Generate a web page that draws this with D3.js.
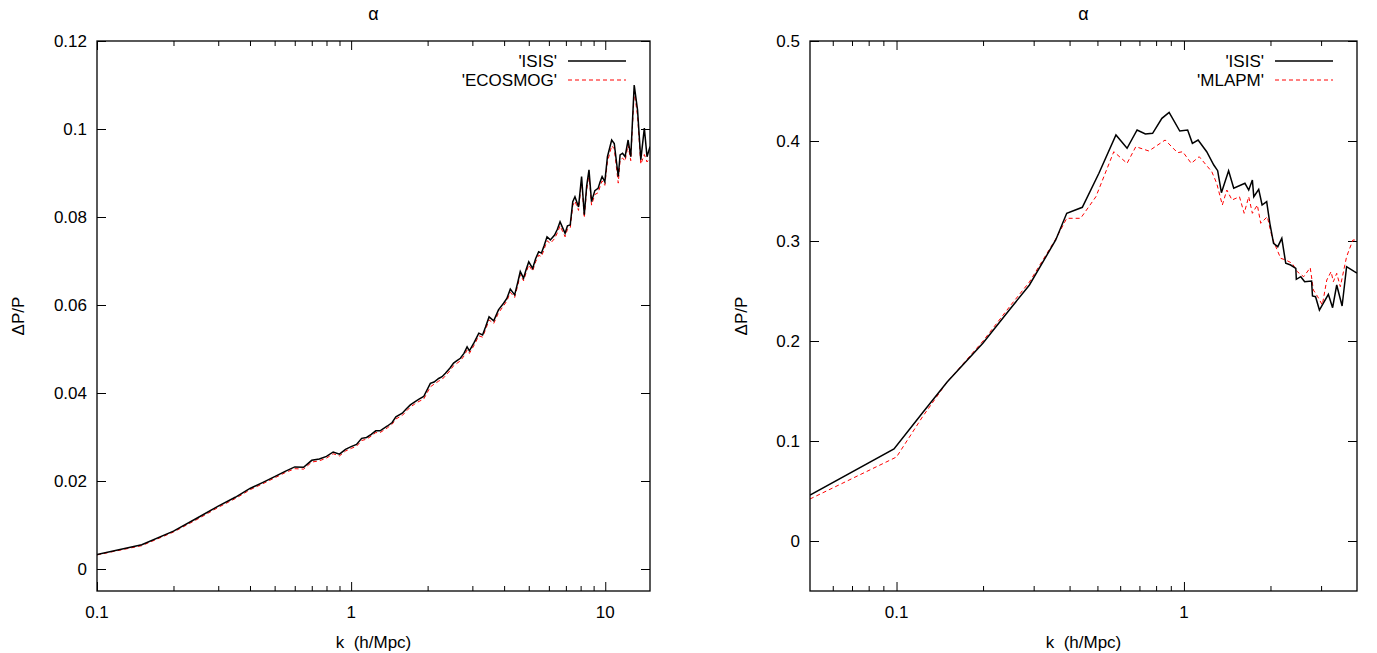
<!DOCTYPE html>
<html>
  <head>
    <meta charset="utf-8" />
    <title>Delta P / P</title>
    <script src="https://d3js.org/d3.v7.min.js"></script>
    <style>
      body { margin:0; background:#fff; }
      text { font-family: "Liberation Sans", Arial, Helvetica, sans-serif; fill:#000; white-space: pre; }
    </style>
  </head>
  <body>
    <svg id="chart"></svg>
    <script>
      // left panel: ISIS vs ECOSMOG
      var leftK = [0.10,0.15,0.20,0.25,0.30,0.35,0.40,0.45,0.50,0.55,0.60,0.65,0.70,0.75,0.80,0.85,0.90,0.95,
        1.00,1.05,1.10,1.15,1.20,1.25,1.30,1.39,1.45,1.50,1.59,1.65,1.71,1.78,1.85,1.93,2.05,2.12,2.21,2.28,2.35,
        2.45,2.53,2.60,2.69,2.78,2.86,2.92,3.05,3.18,3.29,3.38,3.49,3.64,3.80,3.98,4.10,4.23,4.40,4.52,4.63,4.77,
        4.88,5.00,5.18,5.32,5.47,5.61,5.75,5.90,6.08,6.32,6.48,6.64,6.95,7.10,7.28,7.45,7.60,7.85,8.07,8.27,8.45,
        8.63,8.83,9.10,9.37,9.55,9.72,9.96,10.2,10.6,10.85,11.25,11.44,11.7,11.97,12.3,12.6,13.0,13.4,13.8,14.25,14.6,15.0];
      var leftIsis = [0.0033,0.0055,0.0086,0.0117,0.0143,0.0163,0.0183,0.0197,0.0210,0.0222,0.0232,0.0231,0.0247,0.0250,
        0.0256,0.0266,0.0261,0.0272,0.0278,0.0283,0.0297,0.0299,0.0306,0.0314,0.0314,0.0325,0.0333,0.0346,0.0354,0.0364,
        0.0373,0.0380,0.0386,0.0392,0.0422,0.0425,0.0433,0.0437,0.0445,0.0457,0.0468,0.0473,0.0479,0.0490,0.0505,0.0496,
        0.0515,0.0536,0.0532,0.0550,0.0573,0.0564,0.0589,0.0604,0.0615,0.0636,0.0623,0.0650,0.0676,0.0661,0.0680,0.0698,
        0.0683,0.0705,0.0721,0.0718,0.0735,0.0755,0.0748,0.0759,0.0772,0.0789,0.0763,0.0780,0.0782,0.0835,0.0846,0.0823,
        0.0892,0.0805,0.0870,0.0907,0.0835,0.0860,0.0865,0.0880,0.0892,0.0880,0.0937,0.0975,0.0967,0.0892,0.0941,0.0945,
        0.0937,0.0975,0.0937,0.1100,0.1043,0.0930,0.1002,0.0937,0.0960];
      var leftEcosmog = [0.0032,0.0053,0.0084,0.0114,0.0140,0.0160,0.0180,0.0194,0.0207,0.0219,0.0228,0.0227,0.0243,0.0246,
        0.0252,0.0262,0.0257,0.0268,0.0274,0.0279,0.0292,0.0295,0.0302,0.0310,0.0310,0.0321,0.0329,0.0341,0.0349,0.0359,
        0.0368,0.0375,0.0381,0.0386,0.0414,0.0420,0.0427,0.0431,0.0439,0.0451,0.0462,0.0467,0.0473,0.0484,0.0498,0.0490,
        0.0509,0.0530,0.0527,0.0544,0.0566,0.0558,0.0582,0.0598,0.0609,0.0629,0.0617,0.0643,0.0669,0.0655,0.0673,0.0691,
        0.0677,0.0698,0.0713,0.0710,0.0727,0.0746,0.0740,0.0751,0.0764,0.0780,0.0755,0.0772,0.0774,0.0826,0.0836,0.0815,
        0.0882,0.0798,0.0861,0.0897,0.0827,0.0851,0.0855,0.0870,0.0882,0.0872,0.0925,0.0962,0.0955,0.0877,0.0930,0.0934,
        0.0927,0.0964,0.0928,0.1085,0.1030,0.0920,0.0942,0.0925,0.0935];

      // right panel: ISIS vs MLAPM
      var rightKIsis = [0.05,0.098,0.123,0.15,0.20,0.25,0.29,0.358,0.391,0.443,0.506,0.58,0.634,0.687,0.734,0.778,
        0.838,0.888,0.967,1.03,1.07,1.12,1.20,1.27,1.31,1.35,1.43,1.49,1.63,1.68,1.73,1.75,1.82,1.87,1.94,1.99,2.05,
        2.12,2.19,2.26,2.35,2.45,2.46,2.55,2.63,2.78,2.80,2.87,2.96,3.18,3.29,3.40,3.55,3.68,3.92,4.0];
      var rightIsis = [0.046,0.092,0.128,0.159,0.198,0.233,0.256,0.301,0.3277,0.3337,0.3677,0.406,0.3927,0.411,0.407,0.4077,
        0.4227,0.4287,0.410,0.411,0.3977,0.401,0.3893,0.376,0.3703,0.3483,0.3703,0.3527,0.3577,0.351,0.361,0.3443,0.3517,
        0.336,0.3393,0.3177,0.2977,0.2943,0.3027,0.2777,0.276,0.2727,0.2617,0.2643,0.2593,0.26,0.245,0.2443,0.231,0.2467,
        0.2333,0.256,0.235,0.2743,0.2693,0.268];
      var rightKMlapm = [0.05,0.10,0.123,0.15,0.20,0.25,0.29,0.358,0.391,0.437,0.494,0.57,0.634,0.68,0.755,0.86,0.95,0.99,
        1.06,1.13,1.25,1.30,1.36,1.41,1.47,1.56,1.62,1.68,1.73,1.80,1.85,1.95,2.03,2.17,2.26,2.38,2.48,2.61,2.75,2.82,
        2.92,3.03,3.14,3.25,3.31,3.40,3.50,3.68,3.87,4.0];
      var rightMlapm = [0.042,0.084,0.124,0.159,0.200,0.236,0.259,0.302,0.3227,0.3227,0.3443,0.3893,0.3777,0.3943,0.390,
        0.401,0.3883,0.3893,0.3777,0.3843,0.3693,0.3577,0.336,0.351,0.341,0.3443,0.3277,0.3443,0.3277,0.336,0.3177,0.3243,
        0.3027,0.2827,0.281,0.2777,0.2693,0.2643,0.2733,0.251,0.2443,0.236,0.261,0.2693,0.2593,0.2677,0.2543,0.2843,0.301,0.301];

      // ticks
      var leftXMajor = [0.1, 1, 10];
      var leftXMinor = [0.2,0.3,0.4,0.5,0.6,0.7,0.8,0.9,2,3,4,5,6,7,8,9];
      var leftYTicks = [0, 0.02, 0.04, 0.06, 0.08, 0.1, 0.12];
      var leftYLabels = ["0", "0.02", "0.04", "0.06", "0.08", "0.1", "0.12"];
      var rightXMajor = [0.1, 1];
      var rightXMinor = [0.06,0.07,0.08,0.09,0.2,0.3,0.4,0.5,0.6,0.7,0.8,0.9,2,3];
      var rightYTicks = [0, 0.1, 0.2, 0.3, 0.4, 0.5];
      var rightYLabels = ["0", "0.1", "0.2", "0.3", "0.4", "0.5"];

      var width = 1377, height = 653;
      var svg = d3.select("#chart").attr("width", width).attr("height", height);

      var panels = [
        { id: "l", left: 97, right: 650, top: 41, bottom: 591, ylabOff: -73,
          xDomain: [0.1, 15], yDomain: [-0.005, 0.12],
          xMajor: leftXMajor, xMinor: leftXMinor, yTicks: leftYTicks, yLabels: leftYLabels,
          series: [
            { name: "'ISIS'", k: leftK, v: leftIsis, color: "#000", width: 1.5, dash: null },
            { name: "'ECOSMOG'", k: leftK, v: leftEcosmog, color: "#f00", width: 1, dash: "4,3" }
          ] },
        { id: "r", left: 810, right: 1357, top: 41, bottom: 591, ylabOff: -63,
          xDomain: [0.05, 4], yDomain: [-0.05, 0.5],
          xMajor: rightXMajor, xMinor: rightXMinor, yTicks: rightYTicks, yLabels: rightYLabels,
          series: [
            { name: "'ISIS'", k: rightKIsis, v: rightIsis, color: "#000", width: 1.5, dash: null },
            { name: "'MLAPM'", k: rightKMlapm, v: rightMlapm, color: "#f00", width: 1, dash: "4,3" }
          ] }
      ];

      panels.forEach(function(p) {
        var w = p.right - p.left, h = p.bottom - p.top;
        var x = d3.scaleLog().domain(p.xDomain).range([0, w]);
        var y = d3.scaleLinear().domain(p.yDomain).range([h, 0]);
        var g = svg.append("g").attr("transform", "translate(" + p.left + "," + p.top + ")");

        g.append("clipPath").attr("id", "clip-" + p.id)
          .append("rect").attr("width", w).attr("height", h);

        // inward ticks on all four sides
        function tickAxis(axisFn, scale, values, size, tr) {
          var a = g.append("g").attr("transform", tr)
            .call(axisFn(scale).tickValues(values).tickSize(size).tickFormat(""));
          a.select(".domain").remove();
          a.selectAll("line").attr("stroke", "#000").attr("stroke-width", 1);
        }
        tickAxis(d3.axisBottom, x, p.xMajor, -9, "translate(0," + h + ")");
        tickAxis(d3.axisBottom, x, p.xMinor, -5, "translate(0," + h + ")");
        tickAxis(d3.axisTop, x, p.xMajor, -9, "translate(0,0)");
        tickAxis(d3.axisTop, x, p.xMinor, -5, "translate(0,0)");
        tickAxis(d3.axisLeft, y, p.yTicks, -9, "translate(0,0)");
        tickAxis(d3.axisRight, y, p.yTicks, -9, "translate(" + w + ",0)");

        // tick labels
        g.selectAll(".xlab").data(p.xMajor).enter().append("text")
          .attr("x", function(d) { return x(d); }).attr("y", h + 27)
          .attr("text-anchor", "middle").style("font-size", "17px")
          .text(function(d) { return String(d); });
        g.selectAll(".ylab").data(p.yTicks).enter().append("text")
          .attr("x", -10).attr("y", function(d) { return y(d) + 6; })
          .attr("text-anchor", "end").style("font-size", "17px")
          .text(function(d, i) { return p.yLabels[i]; });

        // lines
        var line = d3.line().x(function(d) { return x(d[0]); }).y(function(d) { return y(d[1]); });
        p.series.slice().reverse().forEach(function(s) {
          g.append("path")
            .datum(s.k.map(function(k, i) { return [k, s.v[i]]; }))
            .attr("clip-path", "url(#clip-" + p.id + ")")
            .attr("d", line)
            .attr("fill", "none")
            .attr("stroke", s.color)
            .attr("stroke-width", s.width)
            .attr("stroke-dasharray", s.dash);
        });

        // frame
        g.append("rect").attr("width", w).attr("height", h)
          .attr("fill", "none").attr("stroke", "#000").attr("stroke-width", 1.3);

        // legend
        p.series.forEach(function(s, i) {
          var ly = 20 + i * 19;
          g.append("text").attr("x", w - 93).attr("y", ly + 6)
            .attr("text-anchor", "end").style("font-size", "17px").text(s.name);
          g.append("line").attr("x1", w - 82).attr("x2", w - 24).attr("y1", ly).attr("y2", ly)
            .attr("stroke", s.color).attr("stroke-width", s.width).attr("stroke-dasharray", s.dash);
        });

        // titles
        g.append("text").attr("x", w / 2).attr("y", -21).attr("text-anchor", "middle")
          .style("font-size", "18px").text("\u03b1");
        g.append("text").attr("x", w / 2).attr("y", h + 57).attr("text-anchor", "middle")
          .style("font-size", "17px").text("k  (h/Mpc)");
        g.append("text").attr("transform", "translate(" + p.ylabOff + "," + (h / 2) + ") rotate(-90)")
          .attr("text-anchor", "middle").style("font-size", "17px").text("\u0394P/P");
      });
    </script>
  </body>
</html>
